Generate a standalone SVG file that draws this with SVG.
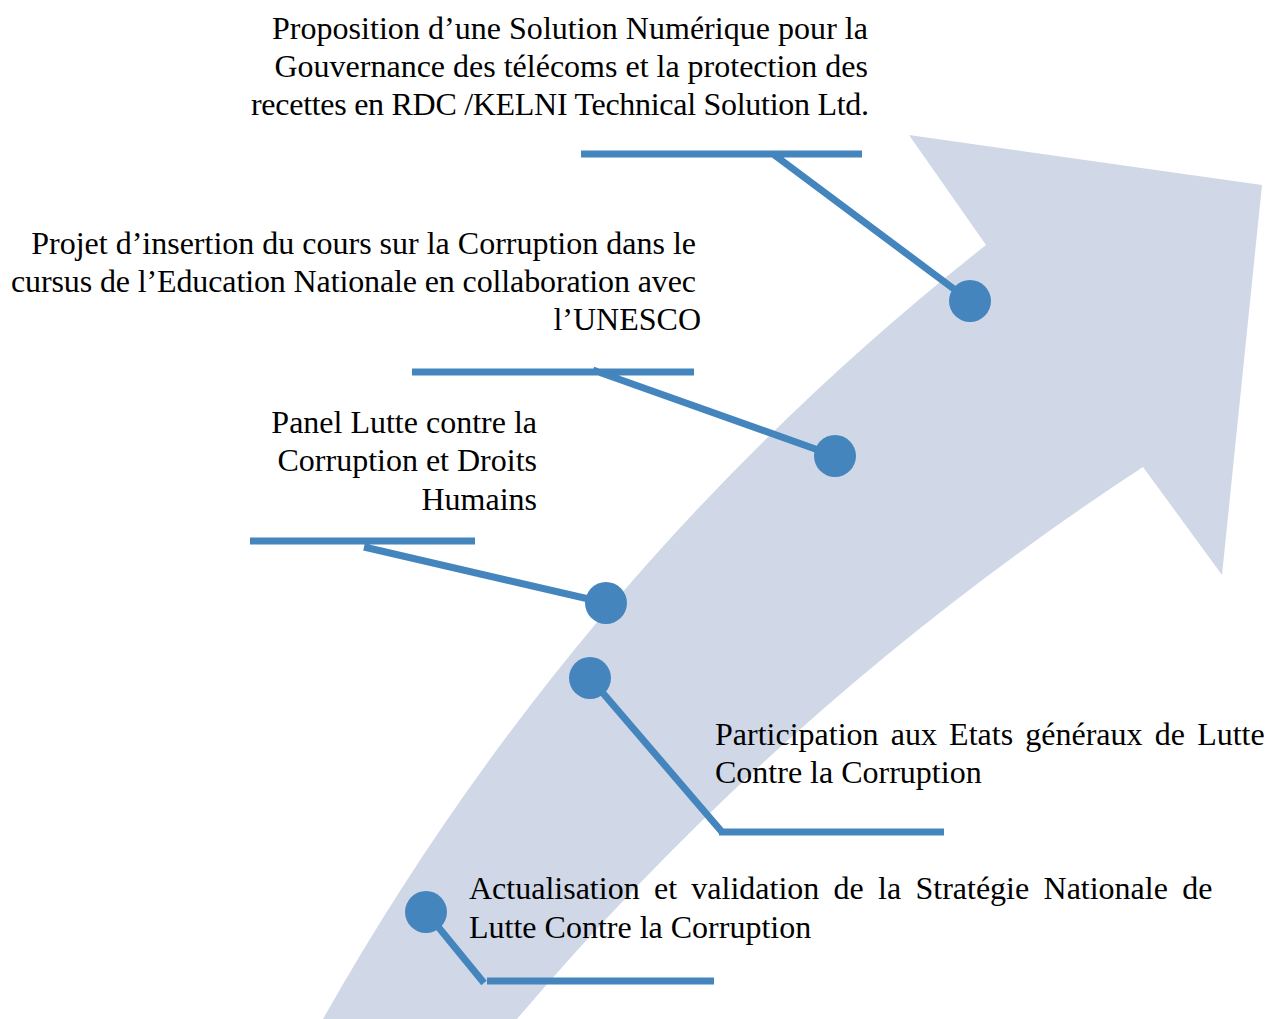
<svg xmlns="http://www.w3.org/2000/svg" width="1268" height="1019" viewBox="0 0 1268 1019">
<style>
.t{font-family:"Liberation Serif","Times New Roman",serif;font-size:32px;fill:#000}
.e{text-anchor:end}
.ln{stroke:#4585BD;stroke-width:7;fill:none}
.dot{fill:#4585BD}
</style>
<rect width="1268" height="1019" fill="#fff"/>
<path id="band" d="M986,245 L909,135 L1262,185 L1222,575 L1143,467 Q790,698 517,1019 L323,1019 Q578,567 986,245 Z" fill="#D0D8E8"/>
<g id="connectors">
<path class="ln" d="M581,154 H862 M773,154 L970,301"/>
<path class="ln" d="M412,372 H694 M593,370 L835,456"/>
<path class="ln" d="M250,541 H475 M364,547 L606,603"/>
<path class="ln" d="M590,678 L722,832 M719,832 H944"/>
<path class="ln" d="M426,912 L484,983 M487,981 H714"/>
</g>
<g id="n1">
<circle class="dot" cx="970" cy="301" r="21"/>
<text class="t e" x="868" y="39" textLength="596" lengthAdjust="spacing">Proposition d’une Solution Numérique pour la</text>
<text class="t e" x="868" y="77">Gouvernance des télécoms et la protection des</text>
<text class="t e" x="869" y="115" textLength="618" lengthAdjust="spacing">recettes en RDC /KELNI Technical Solution Ltd.</text>
</g>
<g id="n2">
<circle class="dot" cx="835" cy="456" r="21"/>
<text class="t e" x="696" y="254">Projet d’insertion du cours sur la Corruption dans le</text>
<text class="t e" x="696" y="292" textLength="685" lengthAdjust="spacing">cursus de l’Education Nationale en collaboration avec</text>
<text class="t e" x="701" y="330">l’UNESCO</text>
</g>
<g id="n3">
<circle class="dot" cx="606" cy="603" r="21"/>
<text class="t e" x="537" y="433">Panel Lutte contre la</text>
<text class="t e" x="537" y="471">Corruption et Droits</text>
<text class="t e" x="537" y="510">Humains</text>
</g>
<g id="n4">
<circle class="dot" cx="590" cy="678" r="21"/>
<text class="t" x="715" y="745" word-spacing="4.2">Participation aux Etats généraux de Lutte</text>
<text class="t" x="715" y="783">Contre la Corruption</text>
</g>
<g id="n5">
<circle class="dot" cx="426" cy="912" r="21"/>
<text class="t" x="469" y="899" word-spacing="6.3">Actualisation et validation de la Stratégie Nationale de</text>
<text class="t" x="469" y="938">Lutte Contre la Corruption</text>
</g>
</svg>
